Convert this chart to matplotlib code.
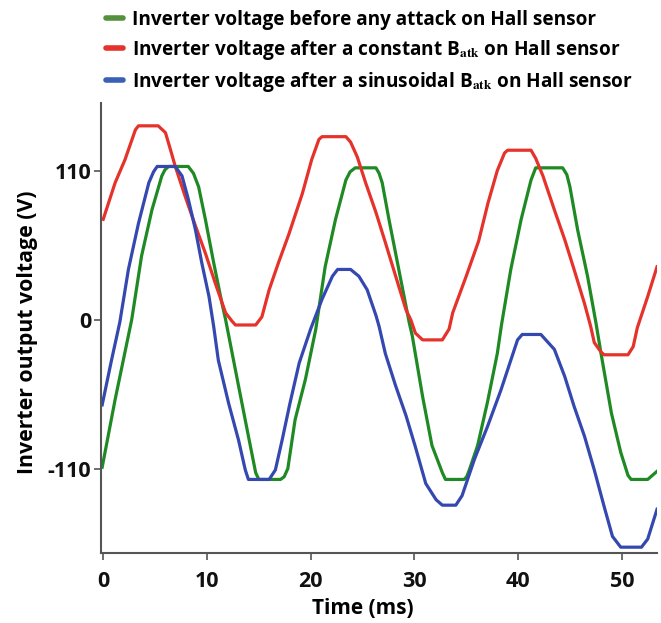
import matplotlib
matplotlib.use("Agg")
import matplotlib.pyplot as plt
from matplotlib.lines import Line2D

plt.rcParams["font.family"] = ["Open Sans", "DejaVu Sans"]
plt.rcParams["font.weight"] = "bold"
plt.rcParams["mathtext.fontset"] = "stix"

# ---- data (time in ms, voltage in V) ----
green_t = [-0.1, 1.15, 2.75, 3.7, 4.7, 5.65, 5.95, 6.3, 8.2, 8.7, 9.2, 9.85, 10.65, 11.45, 11.8, 13.05,
           14.0, 14.7, 15.0, 17.1, 17.45, 17.8, 18.5, 19.5, 20.5, 21.4, 22.4, 23.4, 23.8, 24.3, 26.3,
           26.6, 26.9, 27.55, 28.5, 29.5, 29.8, 30.8, 31.7, 32.7, 33.0, 34.8, 35.05, 35.3, 36.1, 37.05,
           38.0, 38.4, 39.3, 40.3, 41.25, 41.7, 44.3, 44.7, 45.0, 45.75, 46.7, 47.5, 48.0, 49.0, 49.9,
           50.6, 50.9, 52.5, 53.4]
green_v = [-109, -59, 0, 47, 81, 106, 110.5, 113, 113, 108, 98, 74, 42, 12, 0, -49,
           -86, -113, -118, -118, -116, -110, -74, -44, -7, 39, 74, 103, 109, 112, 112,
           108, 101, 74, 37, -2, -12, -57, -93, -113, -118, -118, -116, -111, -93, -61,
           -25, -4, 37, 74, 103, 112, 112, 107, 98, 66, 32, -2, -25, -69, -98,
           -115, -118, -118, -112]

red_t = [0.0, 1.15, 2.1, 3.1, 3.4, 5.3, 6.0, 6.5, 6.95, 7.9, 8.9, 9.85, 10.8, 11.8, 12.4, 12.75,
         14.7, 15.3, 16.0, 16.9, 17.9, 19.2, 20.1, 20.8, 21.1, 23.4, 23.85, 24.5, 25.3, 26.3, 27.2,
         28.2, 29.2, 29.65, 30.1, 30.8, 32.7, 33.35, 33.7, 35.0, 36.2, 37.1, 38.0, 38.7, 39.0, 41.25,
         41.7, 42.4, 43.5, 44.5, 45.4, 46.4, 47.0, 47.35, 48.0, 48.3, 50.6, 51.1, 51.5, 52.5, 53.4]
red_v = [74, 101, 118, 140, 143, 143, 138, 125, 113, 91, 69, 49, 27, 5, -1, -4,
         -4, 2, 22, 42, 63, 93, 118, 133, 135, 135, 131, 120, 101, 79, 57,
         32, 7, 0, -10, -15, -15, -7, 5, 32, 58, 86, 110, 123, 125, 125,
         119, 106, 81, 59, 37, 12, -5, -17, -24, -26, -26, -20, -6, 17, 39]

blue_t = [-0.1, 0.8, 1.6, 2.43, 3.4, 4.4, 4.85, 5.2, 6.95, 7.6, 8.2, 8.9, 9.5, 10.2, 10.65, 11.1,
          12.1, 13.05, 13.7, 14.0, 16.0, 16.6, 17.25, 18.0, 18.9, 20.0, 21.1, 22.1, 22.6, 23.85,
          24.65, 25.45, 26.3, 26.6, 27.2, 28.2, 29.2, 30.1, 31.1, 32.1, 32.7, 34.0, 34.6, 35.8,
          37.05, 38.35, 39.3, 39.95, 40.4, 42.2, 43.5, 44.5, 45.4, 46.4, 47.35, 48.3, 49.1, 49.9,
          51.9, 52.5, 53.4]
blue_v = [-63, -30, -2, 37, 71, 101, 109, 113, 113, 106, 89, 66, 42, 17, -5, -30,
          -62, -89, -111, -118, -118, -111, -89, -62, -32, -7, 15, 32, 37, 37,
          32, 22, 3, -5, -25, -49, -71, -94, -121, -133, -137, -137, -130, -103,
          -79, -52, -30, -15, -11, -11, -22, -42, -64, -86, -111, -138, -160, -168,
          -168, -162, -140]

x_ticks = [0, 10, 20, 30, 40, 50]
y_ticks = [-110, 0, 110]

labels = [
    "Inverter voltage before any attack on Hall sensor",
    "Inverter voltage after a constant B$_{\\mathbf{atk}}$ on Hall sensor",
    "Inverter voltage after a sinusoidal B$_{\\mathbf{atk}}$ on Hall sensor",
]
colors = ["#1f8a24", "#e5322b", "#3448b0"]
legend_colors = ["#55903c", "#e5322b", "#3a5fb5"]

fig = plt.figure(figsize=(6.61, 6.23), dpi=100)
ax = fig.add_axes([0.153, 0.113, 0.841, 0.722])

for t, v, c in zip([green_t, red_t, blue_t], [green_v, red_v, blue_v], colors):
    ax.plot(t, v, color=c, lw=2.3, solid_joinstyle="round")

ax.set_xlim(-0.2, 53.4)
ax.set_ylim(-172, 160)
ax.set_xticks(x_ticks)
ax.set_yticks(y_ticks)
ax.set_xticklabels([str(x) for x in x_ticks], fontsize=15.5, fontweight="bold")
ax.set_yticklabels([str(y) for y in y_ticks], fontsize=15.5, fontweight="bold")
for s in ["top", "right"]:
    ax.spines[s].set_visible(False)
for s in ["left", "bottom"]:
    ax.spines[s].set_color("#555555")
    ax.spines[s].set_linewidth(1.5)
ax.tick_params(axis="both", direction="out", length=5, width=1.2, color="#555555", colors="#111111")
ax.tick_params(axis="x", pad=8)
ax.tick_params(axis="y", pad=2)
ax.set_xlabel("Time (ms)", fontsize=15, fontweight="bold")
ax.xaxis.set_label_coords(0.471, -0.1)
ax.set_ylabel("Inverter output voltage (V)", fontsize=15.3, fontweight="bold")
ax.yaxis.set_label_coords(-0.114, 0.49)

handles = [Line2D([], [], color=c, lw=4, solid_capstyle="round") for c in legend_colors]
fig.legend(handles, labels, loc="upper left", bbox_to_anchor=(0.135, 1.012), frameon=False,
           handlelength=0.9, handletextpad=0.45, labelspacing=0.42,
           prop={"weight": "bold", "size": 13.7})

fig.savefig("out.png", dpi=100)
